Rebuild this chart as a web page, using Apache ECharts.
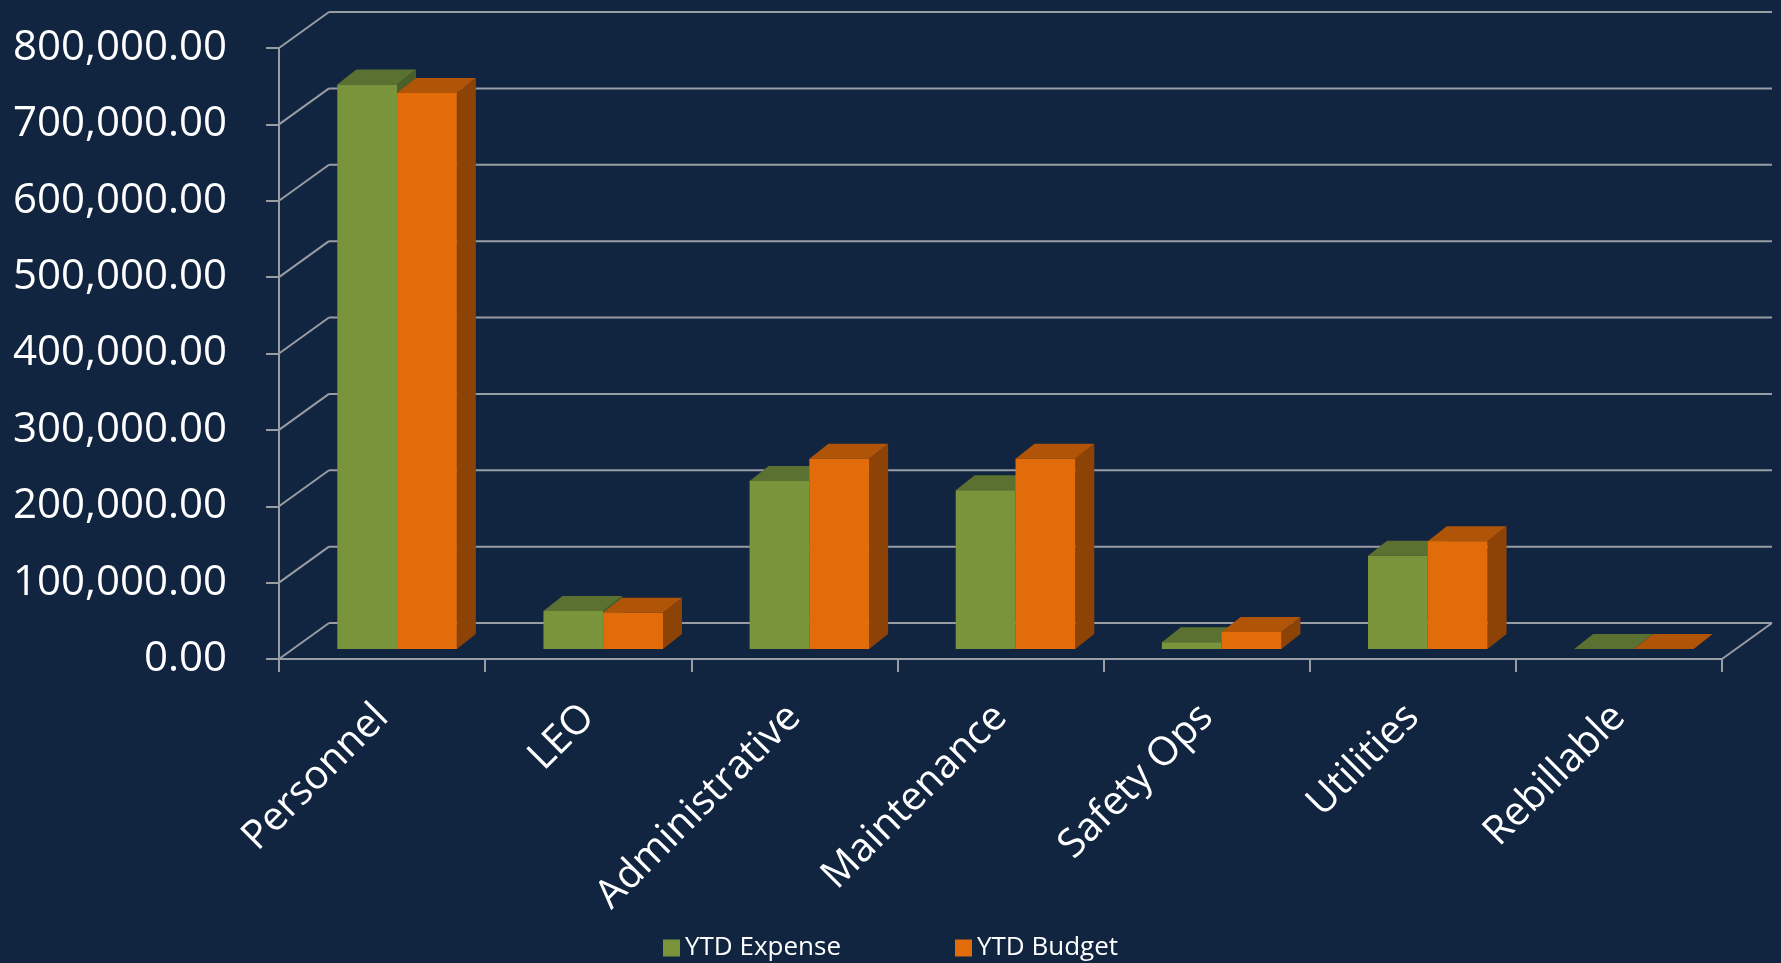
<!DOCTYPE html>
<html>
<head>
<meta charset="utf-8">
<script src="https://cdn.jsdelivr.net/npm/echarts@6/dist/echarts.min.js"></script>
<style>
html,body{margin:0;padding:0;background:#112440;}
#chart{width:1781px;height:963px;}
</style>
</head>
<body>
<div id="chart"></div>
<script>
// ---- data ----
var categories = ['Personnel', 'LEO', 'Administrative', 'Maintenance', 'Safety Ops', 'Utilities', 'Rebillable'];
var ytdExpense = [739000, 49600, 220000, 208000, 9000, 122000, 0];
var ytdBudget  = [728000, 47300, 249000, 249000, 22300, 141000, 0];
var yTicks = [0, 100000, 200000, 300000, 400000, 500000, 600000, 700000, 800000];
var seriesNames = ['YTD Expense', 'YTD Budget'];

// ---- style ----
var BG = '#112440';
var LINE = '#989ca3';
var FONT = 'Open Sans';
var DEPTH = [50, -36];      // back wall offset
var BAR_FRONT = [15, -10];  // bar front face offset
var BAR_DEPTH = [19, -15];  // bar depth
var BAR_FRAC = 0.29;
var colors = [
  { front: '#7a943c', top: '#5b7131', side: '#4b5f29' },
  { front: '#e36c0a', top: '#b05407', side: '#8e4306' }
];

function frameRender(params, api) {
  var cs = params.coordSys;
  var v = api.value(1);
  var p = api.coord([0, v]);
  var y = p[1];
  var x0 = cs.x, x1 = cs.x + cs.width;
  var style = { stroke: LINE, lineWidth: 2 };
  var children = [
    { type: 'line', shape: { x1: x0, y1: y, x2: x0 + DEPTH[0], y2: y + DEPTH[1] }, style: style },
    { type: 'line', shape: { x1: x0 + DEPTH[0], y1: y + DEPTH[1], x2: x1 + DEPTH[0], y2: y + DEPTH[1] }, style: style }
  ];
  if (v === 0) {
    children.push({ type: 'line', shape: { x1: x1, y1: y, x2: x1 + DEPTH[0], y2: y + DEPTH[1] }, style: style });
  }
  return { type: 'group', children: children };
}

function makeBarRender(k) {
  var c = colors[k];
  return function (params, api) {
    var idx = api.value(0);
    var val = api.value(1);
    var top = api.coord([idx, val]);
    var base = api.coord([idx, 0]);
    var W = api.size([1, 0])[0];
    var bw = W * BAR_FRAC;
    var x0 = (k === 0 ? top[0] - bw : top[0]) + BAR_FRONT[0];
    var yT = top[1] + BAR_FRONT[1];
    var yB = base[1] + BAR_FRONT[1];
    var dx = BAR_DEPTH[0], dy = BAR_DEPTH[1];
    return {
      type: 'group',
      children: [
        { type: 'polygon', shape: { points: [[x0 + bw, yT], [x0 + bw + dx, yT + dy], [x0 + bw + dx, yB + dy], [x0 + bw, yB]] }, style: { fill: c.side } },
        { type: 'polygon', shape: { points: [[x0, yT], [x0 + bw, yT], [x0 + bw + dx, yT + dy], [x0 + dx, yT + dy]] }, style: { fill: c.top } },
        { type: 'rect', shape: { x: x0, y: yT, width: bw, height: Math.max(yB - yT, 0) }, style: { fill: c.front } }
      ]
    };
  };
}

var chart = echarts.init(document.getElementById('chart'), null, { renderer: 'canvas' });
chart.setOption({
  backgroundColor: BG,
  animation: false,
  textStyle: { fontFamily: FONT },
  grid: { left: 279, right: 59, top: 48, bottom: 304, containLabel: false },
  legend: {
    data: seriesNames,
    left: 658, top: 930,
    icon: 'rect', itemWidth: 17, itemHeight: 17, itemGap: 114,
    textStyle: { color: '#ffffff', fontSize: 26, fontFamily: FONT }
  },
  xAxis: {
    type: 'category',
    data: categories,
    axisLine: { show: true, lineStyle: { color: LINE, width: 2 } },
    axisTick: { show: true, length: 13, lineStyle: { color: LINE, width: 2 } },
    axisLabel: { interval: 0, rotate: 45, margin: 52, color: '#ffffff', fontSize: 40, fontFamily: FONT },
    splitLine: { show: false }
  },
  yAxis: {
    type: 'value',
    min: 0, max: 800000, interval: 100000,
    axisLine: { show: true, lineStyle: { color: LINE, width: 2 } },
    axisTick: { show: true, length: 13, lineStyle: { color: LINE, width: 2 } },
    axisLabel: {
      margin: 52, color: '#ffffff', fontSize: 42, fontFamily: FONT,
      formatter: function (v) { return v.toLocaleString('en-US', { minimumFractionDigits: 2, maximumFractionDigits: 2 }); }
    },
    splitLine: { show: false }
  },
  series: [
    {
      type: 'custom', name: 'frame', z: 1, silent: true,
      renderItem: frameRender,
      data: yTicks.map(function (v) { return [0, v]; })
    },
    {
      type: 'custom', name: seriesNames[0], z: 3,
      itemStyle: { color: colors[0].front },
      renderItem: makeBarRender(0),
      data: ytdExpense.map(function (v, i) { return [i, v]; })
    },
    {
      type: 'custom', name: seriesNames[1], z: 4,
      itemStyle: { color: colors[1].front },
      renderItem: makeBarRender(1),
      data: ytdBudget.map(function (v, i) { return [i, v]; })
    }
  ]
});
</script>
</body>
</html>
